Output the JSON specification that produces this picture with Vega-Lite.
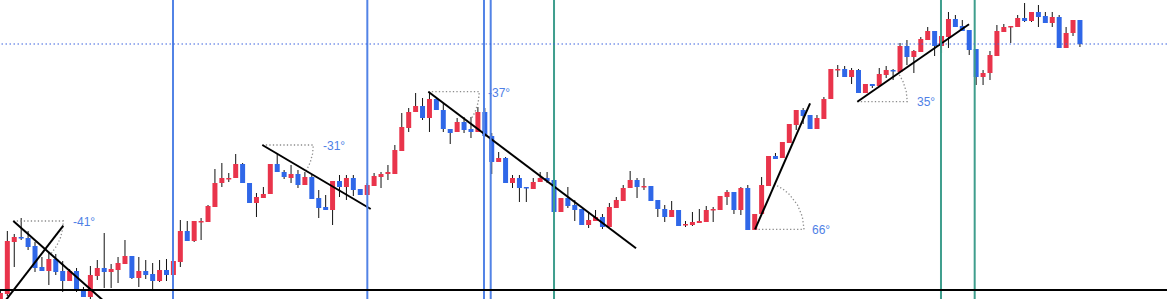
{
  "$schema": "https://vega.github.io/schema/vega-lite/v6.json",
  "width": 1167,
  "height": 299,
  "padding": 0,
  "autosize": {"type": "none"},
  "background": "#ffffff",
  "config": {
    "view": {"stroke": null},
    "scale": {"continuousPadding": 0},
    "axis": {"labels": false, "ticks": false, "domain": false, "title": null, "grid": true, "gridColor": "#eeeeee", "gridWidth": 1}
  },
  "datasets": {
    "candles": [
      {"i":0,"o":0,"h":9,"l":0,"c":6},
      {"i":1,"o":5,"h":68,"l":3,"c":58},
      {"i":2,"o":57,"h":65,"l":32,"c":62},
      {"i":3,"o":62,"h":81,"l":59,"c":60.5},
      {"i":4,"o":61,"h":68,"l":49,"c":52},
      {"i":5,"o":53,"h":57,"l":27,"c":31},
      {"i":6,"o":32,"h":42,"l":28,"c":28},
      {"i":7,"o":28,"h":46,"l":14,"c":40},
      {"i":8,"o":40,"h":45,"l":24,"c":27},
      {"i":9,"o":28,"h":38,"l":7,"c":18},
      {"i":10,"o":18,"h":30,"l":18,"c":28},
      {"i":11,"o":28,"h":31,"l":7,"c":8},
      {"i":12,"o":9,"h":12,"l":2,"c":2},
      {"i":13,"o":2,"h":33,"l":0,"c":24},
      {"i":14,"o":23,"h":39,"l":19,"c":31},
      {"i":15,"o":31,"h":66,"l":11,"c":27},
      {"i":16,"o":27,"h":35,"l":11,"c":30},
      {"i":17,"o":29,"h":42,"l":16,"c":36},
      {"i":18,"o":35,"h":59,"l":35,"c":43},
      {"i":19,"o":43,"h":43,"l":20,"c":21},
      {"i":20,"o":21,"h":42,"l":12,"c":28},
      {"i":21,"o":28,"h":39,"l":20,"c":24},
      {"i":22,"o":25,"h":36,"l":8,"c":18},
      {"i":23,"o":18,"h":39,"l":17,"c":29},
      {"i":24,"o":29,"h":40,"l":18,"c":24},
      {"i":25,"o":24,"h":49,"l":23,"c":38},
      {"i":26,"o":37,"h":79,"l":32,"c":68},
      {"i":27,"o":68,"h":78,"l":58,"c":58},
      {"i":28,"o":58,"h":78,"l":57,"c":78},
      {"i":29,"o":76.5,"h":81,"l":59,"c":78},
      {"i":30,"o":77,"h":94,"l":77,"c":93},
      {"i":31,"o":92,"h":130,"l":92,"c":116},
      {"i":32,"o":116,"h":136,"l":112,"c":121},
      {"i":33,"o":119.5,"h":126,"l":117,"c":121},
      {"i":34,"o":121,"h":145,"l":121,"c":135},
      {"i":35,"o":135,"h":136,"l":116,"c":116},
      {"i":36,"o":116,"h":116,"l":96,"c":96},
      {"i":37,"o":96,"h":106,"l":82,"c":102},
      {"i":38,"o":101,"h":112,"l":101,"c":105},
      {"i":39,"o":105,"h":135,"l":105,"c":135},
      {"i":40,"o":135,"h":146,"l":127,"c":127},
      {"i":41,"o":127,"h":129,"l":120,"c":122},
      {"i":42,"o":121,"h":134,"l":116,"c":125},
      {"i":43,"o":125,"h":129,"l":111,"c":114},
      {"i":44,"o":114,"h":127,"l":114,"c":122},
      {"i":45,"o":122,"h":124,"l":100,"c":100},
      {"i":46,"o":101,"h":109,"l":81,"c":91},
      {"i":47,"o":92,"h":104,"l":89,"c":89},
      {"i":48,"o":89,"h":118,"l":74,"c":118},
      {"i":49,"o":118,"h":124,"l":102,"c":112},
      {"i":50,"o":112,"h":124,"l":99,"c":121},
      {"i":51,"o":121,"h":124,"l":103,"c":109},
      {"i":52,"o":110,"h":110,"l":104,"c":104},
      {"i":53,"o":104,"h":116,"l":104,"c":114},
      {"i":54,"o":113,"h":126,"l":113,"c":123},
      {"i":55,"o":122,"h":127,"l":111,"c":125},
      {"i":56,"o":125,"h":134,"l":119,"c":127},
      {"i":57,"o":125,"h":154,"l":125,"c":149},
      {"i":58,"o":148,"h":186,"l":148,"c":172},
      {"i":59,"o":171,"h":191,"l":167,"c":187},
      {"i":60,"o":187,"h":206,"l":187,"c":193},
      {"i":61,"o":193,"h":201,"l":179,"c":181},
      {"i":62,"o":181,"h":207,"l":167,"c":200},
      {"i":63,"o":200,"h":202,"l":189,"c":189},
      {"i":64,"o":189,"h":196,"l":167,"c":170},
      {"i":65,"o":170,"h":170,"l":155,"c":166},
      {"i":66,"o":167,"h":181,"l":167,"c":177},
      {"i":67,"o":177,"h":182,"l":166,"c":169},
      {"i":68,"o":170,"h":182,"l":161,"c":167},
      {"i":69,"o":167,"h":192,"l":167,"c":187},
      {"i":70,"o":187,"h":191,"l":162,"c":163},
      {"i":71,"o":163,"h":166,"l":125,"c":137},
      {"i":72,"o":137,"h":147,"l":137,"c":141},
      {"i":73,"o":141,"h":142,"l":116,"c":116},
      {"i":74,"o":116,"h":124,"l":111,"c":121},
      {"i":75,"o":121,"h":124,"l":97,"c":111},
      {"i":76,"o":112,"h":112,"l":97,"c":110.5},
      {"i":77,"o":110,"h":121,"l":110,"c":117},
      {"i":78,"o":117,"h":127,"l":117,"c":121},
      {"i":79,"o":121,"h":127,"l":116,"c":118},
      {"i":80,"o":119,"h":119,"l":86,"c":87},
      {"i":81,"o":87,"h":101,"l":87,"c":101},
      {"i":82,"o":101,"h":112,"l":91,"c":93},
      {"i":83,"o":94,"h":99,"l":78,"c":89},
      {"i":84,"o":90,"h":90,"l":74,"c":74},
      {"i":85,"o":74,"h":86,"l":71,"c":79},
      {"i":86,"o":78,"h":89,"l":78,"c":82},
      {"i":87,"o":82,"h":85,"l":70,"c":72},
      {"i":88,"o":72,"h":96,"l":72,"c":92},
      {"i":89,"o":91,"h":102,"l":91,"c":99},
      {"i":90,"o":98,"h":114,"l":98,"c":111},
      {"i":91,"o":111,"h":128,"l":111,"c":119},
      {"i":92,"o":119,"h":121,"l":101,"c":112},
      {"i":93,"o":111.5,"h":121,"l":109,"c":113},
      {"i":94,"o":113,"h":113,"l":98,"c":98},
      {"i":95,"o":99,"h":99,"l":82,"c":90},
      {"i":96,"o":90,"h":94,"l":77,"c":82},
      {"i":97,"o":82,"h":98,"l":82,"c":89},
      {"i":98,"o":89,"h":89,"l":73,"c":73},
      {"i":99,"o":73.5,"h":78,"l":72,"c":75},
      {"i":100,"o":74,"h":87,"l":73,"c":77},
      {"i":101,"o":76,"h":90,"l":76,"c":78},
      {"i":102,"o":77,"h":93,"l":77,"c":89},
      {"i":103,"o":88.5,"h":92,"l":77,"c":90},
      {"i":104,"o":89,"h":103,"l":89,"c":103},
      {"i":105,"o":102,"h":109,"l":94,"c":107},
      {"i":106,"o":107,"h":107,"l":85,"c":89},
      {"i":107,"o":89,"h":112,"l":84,"c":111},
      {"i":108,"o":111,"h":114,"l":69,"c":69},
      {"i":109,"o":69,"h":85,"l":69,"c":85},
      {"i":110,"o":85,"h":122,"l":85,"c":114},
      {"i":111,"o":113,"h":143,"l":113,"c":143},
      {"i":112,"o":143,"h":146,"l":140,"c":140},
      {"i":113,"o":141,"h":157,"l":141,"c":157},
      {"i":114,"o":156,"h":175,"l":156,"c":175},
      {"i":115,"o":174,"h":189,"l":169,"c":189},
      {"i":116,"o":189,"h":191,"l":175,"c":183},
      {"i":117,"o":184,"h":184,"l":170,"c":170},
      {"i":118,"o":170,"h":184,"l":170,"c":181},
      {"i":119,"o":180,"h":202,"l":180,"c":200},
      {"i":120,"o":200,"h":230,"l":200,"c":230},
      {"i":121,"o":228.5,"h":234,"l":222,"c":230},
      {"i":122,"o":230,"h":233,"l":222,"c":222},
      {"i":123,"o":222,"h":231,"l":215,"c":229},
      {"i":124,"o":229,"h":230,"l":206,"c":206},
      {"i":125,"o":206,"h":215,"l":206,"c":215},
      {"i":126,"o":215,"h":215,"l":211,"c":213},
      {"i":127,"o":213,"h":231,"l":213,"c":225},
      {"i":128,"o":224,"h":233,"l":221,"c":229},
      {"i":129,"o":229,"h":230,"l":219,"c":227.5},
      {"i":130,"o":227,"h":256,"l":227,"c":253},
      {"i":131,"o":253,"h":259,"l":234,"c":242},
      {"i":132,"o":242,"h":249,"l":226,"c":248},
      {"i":133,"o":247,"h":262,"l":247,"c":260},
      {"i":134,"o":259,"h":272,"l":259,"c":268},
      {"i":135,"o":268,"h":268,"l":243,"c":253},
      {"i":136,"o":253,"h":263,"l":246,"c":263},
      {"i":137,"o":262,"h":287,"l":251,"c":280},
      {"i":138,"o":280,"h":284,"l":272,"c":272},
      {"i":139,"o":273,"h":279,"l":268,"c":268},
      {"i":140,"o":269,"h":269,"l":244,"c":249},
      {"i":141,"o":250,"h":250,"l":214,"c":222},
      {"i":142,"o":222,"h":229,"l":214,"c":226},
      {"i":143,"o":226,"h":248,"l":219,"c":244},
      {"i":144,"o":243,"h":274,"l":243,"c":268},
      {"i":145,"o":267,"h":275,"l":267,"c":272},
      {"i":146,"o":271.5,"h":273,"l":256,"c":273},
      {"i":147,"o":272,"h":284,"l":272,"c":281},
      {"i":148,"o":281,"h":296,"l":277,"c":278},
      {"i":149,"o":278,"h":287,"l":277,"c":287},
      {"i":150,"o":287,"h":294,"l":272,"c":282},
      {"i":151,"o":283,"h":287,"l":276,"c":276},
      {"i":152,"o":276,"h":287,"l":272,"c":282},
      {"i":153,"o":282,"h":284,"l":251,"c":251},
      {"i":154,"o":251,"h":272,"l":251,"c":266},
      {"i":155,"o":266,"h":279,"l":263,"c":279},
      {"i":156,"o":279,"h":279,"l":252,"c":255}
    ],
    "trend": [
      {"g":"a","k":0,"x":1.86,"p":78},
      {"g":"a","k":1,"x":15.26,"p":-4},
      {"g":"b","k":0,"x":0.46,"p":-4},
      {"g":"b","k":1,"x":9.09,"p":73.3},
      {"g":"c","k":0,"x":37.85,"p":154},
      {"g":"c","k":1,"x":53.51,"p":90},
      {"g":"d","k":0,"x":61.84,"p":207.3},
      {"g":"d","k":1,"x":91.85,"p":50.7},
      {"g":"e","k":0,"x":109.05,"p":69.7},
      {"g":"e","k":1,"x":117.0,"p":195.7},
      {"g":"f","k":0,"x":123.83,"p":197.3},
      {"g":"f","k":1,"x":139.97,"p":274.7}
    ],
    "dots": [
      {"g":"a","k":0,"x":1.86,"p":78},
      {"g":"a","k":1,"x":9.09,"p":78},
      {"g":"a","k":2,"x":8.97,"p":69.3},
      {"g":"a","k":3,"x":8.66,"p":60.9},
      {"g":"a","k":4,"x":8.12,"p":53},
      {"g":"a","k":5,"x":7.31,"p":45.2},
      {"g":"c","k":0,"x":37.85,"p":154},
      {"g":"c","k":1,"x":45.22,"p":154},
      {"g":"c","k":2,"x":45.10,"p":145.1},
      {"g":"c","k":3,"x":44.77,"p":136.6},
      {"g":"c","k":4,"x":44.16,"p":127.7},
      {"g":"d","k":0,"x":61.84,"p":207.3},
      {"g":"d","k":1,"x":69.21,"p":207.3},
      {"g":"d","k":2,"x":69.05,"p":196.7},
      {"g":"d","k":3,"x":68.57,"p":186.6},
      {"g":"d","k":4,"x":67.72,"p":176.6},
      {"g":"e","k":0,"x":109.05,"p":69.7},
      {"g":"e","k":1,"x":116.13,"p":69.7},
      {"g":"e","k":2,"x":115.88,"p":82.4},
      {"g":"e","k":3,"x":115.17,"p":94.2},
      {"g":"e","k":4,"x":114.05,"p":104.3},
      {"g":"e","k":5,"x":113.11,"p":109.8},
      {"g":"e","k":6,"x":111.92,"p":114.5},
      {"g":"f","k":0,"x":123.83,"p":197.3},
      {"g":"f","k":1,"x":131.05,"p":197.3},
      {"g":"f","k":2,"x":130.89,"p":207.7},
      {"g":"f","k":3,"x":130.43,"p":217.6},
      {"g":"f","k":4,"x":129.75,"p":226}
    ],
    "labels": [
      {"x":10.49,"p":77.5,"t":"-41°"},
      {"x":46.62,"p":153,"t":"-31°"},
      {"x":70.46,"p":206.5,"t":"-37°"},
      {"x":117.28,"p":69.5,"t":"66°"},
      {"x":132.45,"p":197.5,"t":"35°"}
    ],
    "vlines": [
      {"x":24.94,"kind":"blue"},
      {"x":53.02,"kind":"blue"},
      {"x":69.88,"kind":"blue"},
      {"x":70.85,"kind":"blue"},
      {"x":80.0,"kind":"green"},
      {"x":135.92,"kind":"green"},
      {"x":140.79,"kind":"green"}
    ]
  },
  "layer": [
    {
      "data": {"name": "candles"},
      "mark": {"type": "rule", "color": "#111111", "strokeWidth": 1},
      "encoding": {
        "x": {"field": "i", "type": "quantitative", "scale": {"domain": [-0.06, 168.58], "nice": false, "zero": false, "padding": 0},
              "axis": {"values": [15,30,45,60,75,90,105,120,135,150,165], "grid": true}},
        "y": {"field": "l", "type": "quantitative", "scale": {"domain": [0, 299], "nice": false, "zero": false, "padding": 0},
              "axis": {"values": [28,62.4,96.9,131.3,165.7,200.1,234.6,269], "grid": true}},
        "y2": {"field": "h"}
      }
    },
    {
      "data": {"name": "candles"},
      "mark": {"type": "bar", "width": 5},
      "encoding": {
        "x": {"field": "i", "type": "quantitative", "scale": {"domain": [-0.06, 168.58], "nice": false, "zero": false, "padding": 0}, "axis": null},
        "y": {"field": "o", "type": "quantitative", "scale": {"domain": [0, 299], "nice": false, "zero": false, "padding": 0}, "axis": null},
        "y2": {"field": "c"},
        "color": {"condition": {"test": "datum.c > datum.o", "value": "#e9344b"}, "value": "#2f67e8"}
      }
    },
    {
      "data": {"name": "dots"},
      "mark": {"type": "line", "color": "#8c8c8c", "strokeWidth": 1.3, "strokeDash": [1.3, 2.2], "clip": true},
      "encoding": {
        "x": {"field": "x", "type": "quantitative", "scale": {"domain": [-0.06, 168.58], "nice": false, "zero": false, "padding": 0}, "axis": null},
        "y": {"field": "p", "type": "quantitative", "scale": {"domain": [0, 299], "nice": false, "zero": false, "padding": 0}, "axis": null},
        "detail": {"field": "g"},
        "order": {"field": "k"}
      }
    },
    {
      "data": {"name": "trend"},
      "mark": {"type": "line", "color": "#000000", "strokeWidth": 2, "clip": true},
      "encoding": {
        "x": {"field": "x", "type": "quantitative", "scale": {"domain": [-0.06, 168.58], "nice": false, "zero": false, "padding": 0}, "axis": null},
        "y": {"field": "p", "type": "quantitative", "scale": {"domain": [0, 299], "nice": false, "zero": false, "padding": 0}, "axis": null},
        "detail": {"field": "g"},
        "order": {"field": "k"}
      }
    },
    {
      "data": {"name": "vlines"},
      "transform": [{"filter": "datum.kind == 'blue'"}],
      "mark": {"type": "rule", "color": "#5283e6", "strokeWidth": 2},
      "encoding": {
        "x": {"field": "x", "type": "quantitative", "scale": {"domain": [-0.06, 168.58], "nice": false, "zero": false, "padding": 0}, "axis": null}
      }
    },
    {
      "data": {"name": "vlines"},
      "transform": [{"filter": "datum.kind == 'green'"}],
      "mark": {"type": "rule", "color": "#3f9e8d", "strokeWidth": 2},
      "encoding": {
        "x": {"field": "x", "type": "quantitative", "scale": {"domain": [-0.06, 168.58], "nice": false, "zero": false, "padding": 0}, "axis": null}
      }
    },
    {
      "data": {"values": [{"p": 9}]},
      "mark": {"type": "rule", "color": "#000000", "strokeWidth": 2},
      "encoding": {
        "y": {"field": "p", "type": "quantitative", "scale": {"domain": [0, 299], "nice": false, "zero": false, "padding": 0}, "axis": null}
      }
    },
    {
      "data": {"values": [{"p": 255}]},
      "mark": {"type": "rule", "color": "#3a62e0", "strokeWidth": 1.2, "strokeDash": [1.5, 2.5]},
      "encoding": {
        "y": {"field": "p", "type": "quantitative", "scale": {"domain": [0, 299], "nice": false, "zero": false, "padding": 0}, "axis": null}
      }
    },
    {
      "data": {"name": "labels"},
      "mark": {"type": "text", "align": "left", "baseline": "middle", "font": "Liberation Sans", "fontSize": 12, "color": "#4f7fe6"},
      "encoding": {
        "x": {"field": "x", "type": "quantitative", "scale": {"domain": [-0.06, 168.58], "nice": false, "zero": false, "padding": 0}, "axis": null},
        "y": {"field": "p", "type": "quantitative", "scale": {"domain": [0, 299], "nice": false, "zero": false, "padding": 0}, "axis": null},
        "text": {"field": "t"}
      }
    }
  ]
}
